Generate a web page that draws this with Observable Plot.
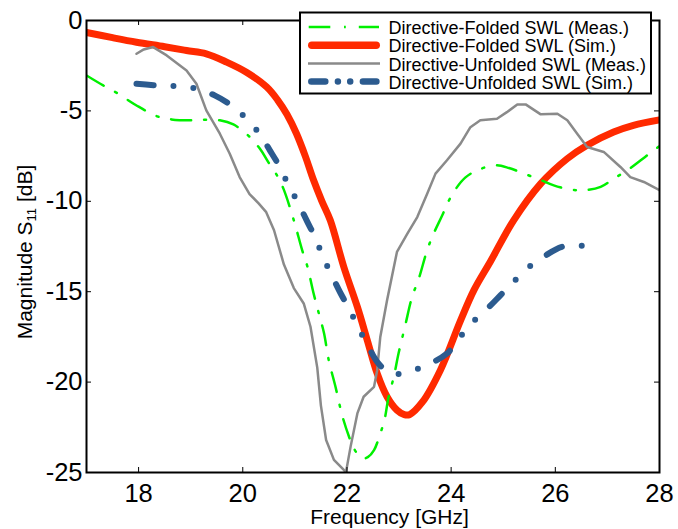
<!DOCTYPE html>
<html><head><meta charset="utf-8">
<script src="https://cdn.jsdelivr.net/npm/d3@7"></script>
<script src="https://cdn.jsdelivr.net/npm/@observablehq/plot@0.6"></script>
<style>body{margin:0;background:#fff} svg{display:block}</style>
</head><body><div id="chart"></div>
<script>
// Series names (legend order)
const seriesNames = [
  "Directive-Folded SWL (Meas.)",
  "Directive-Folded SWL (Sim.)",
  "Directive-Unfolded SWL (Meas.)",
  "Directive-Unfolded SWL (Sim.)"
];

// Directive-Folded SWL (Meas.)
const folMeasF = [17.0,17.32,17.58,17.96,18.36,18.63,19.02,19.27,19.56,19.82,20.1,20.33,20.49,20.65,20.78,20.98,21.14,21.24,21.36,21.46,21.56,21.65,21.78,21.91,22.04,22.13,22.29,22.4,22.52,22.64,22.72,22.8,22.9,22.99,23.12,23.25,23.38,23.54,23.67,23.83,23.96,24.08,24.27,24.5,24.84,25.11,25.4,25.7,25.97,26.29,26.55,26.87,27.12,27.38,27.64,27.89,28.0];
const folMeasS = [-3.04,-3.59,-4.0,-4.7,-5.3,-5.47,-5.52,-5.49,-5.52,-5.75,-6.35,-7.09,-7.83,-8.53,-9.3,-11.05,-12.7,-13.6,-15.1,-16.2,-17.3,-18.78,-20.26,-21.86,-23.02,-23.66,-24.22,-24.15,-23.76,-22.84,-22.1,-20.81,-19.7,-18.42,-16.85,-15.29,-14.27,-12.7,-11.75,-10.77,-9.94,-9.35,-8.69,-8.29,-8.01,-8.16,-8.47,-8.8,-9.12,-9.35,-9.39,-9.2,-8.75,-8.29,-7.73,-7.18,-6.95];

// Directive-Folded SWL (Sim.)
const folSimF = [17.0,17.5,17.96,18.5,18.92,19.3,19.69,20.07,20.46,20.67,20.85,21.03,21.2,21.36,21.52,21.68,21.94,22.2,22.39,22.58,22.77,22.96,23.1,23.2,23.45,23.8,24.18,24.44,24.76,25.2,25.72,26.23,26.61,27.12,27.5,28.0];
const folSimS = [-0.66,-0.95,-1.2,-1.45,-1.66,-1.84,-2.3,-2.86,-3.68,-4.4,-5.2,-6.25,-7.5,-8.84,-10.0,-11.05,-13.63,-15.84,-17.68,-19.52,-20.81,-21.55,-21.8,-21.8,-21.1,-19.3,-16.6,-14.9,-13.3,-11.05,-9.02,-7.64,-6.9,-6.17,-5.8,-5.5];

// Directive-Unfolded SWL (Meas.)
const unfMeasF = [17.96,18.1,18.28,18.54,18.92,19.11,19.3,19.56,19.75,19.94,20.13,20.3,20.45,20.6,20.79,20.98,21.17,21.3,21.43,21.5,21.6,21.75,21.94,21.98,22.07,22.2,22.32,22.52,22.58,22.64,22.77,22.96,23.16,23.35,23.54,23.7,23.92,24.18,24.37,24.56,24.88,25.07,25.27,25.43,25.72,26.04,26.23,26.42,26.61,26.93,27.25,27.44,27.7,28.0];
const unfMeasS = [-1.84,-1.6,-1.47,-1.93,-2.76,-3.5,-4.97,-6.26,-7.37,-8.66,-9.6,-10.1,-10.6,-11.6,-13.5,-14.8,-15.65,-16.94,-19.2,-21.3,-23.2,-24.3,-24.86,-25.0,-23.57,-21.73,-20.81,-20.26,-19.34,-17.5,-15.47,-12.8,-11.79,-10.87,-9.58,-8.47,-7.73,-6.81,-5.9,-5.52,-5.43,-5.07,-4.64,-4.64,-5.19,-5.16,-5.52,-6.26,-7.0,-7.27,-8.1,-8.66,-8.93,-9.39];

// Directive-Unfolded SWL (Sim.)
const unfSimF = [17.96,18.34,18.74,19.12,19.46,19.78,20.07,20.32,20.52,20.71,20.88,21.06,21.24,21.4,21.54,21.7,21.88,22.04,22.21,22.39,22.58,22.74,22.9,23.24,23.58,23.92,24.15,24.4,24.68,24.95,25.2,25.48,25.79,26.13,26.51,26.87];
const unfSimS = [-3.5,-3.59,-3.63,-3.78,-4.14,-4.7,-5.43,-6.26,-7.18,-8.1,-9.12,-10.08,-11.14,-12.06,-13.08,-14.05,-15.1,-15.93,-16.94,-17.92,-18.88,-19.34,-19.56,-19.38,-19.0,-18.42,-17.59,-16.72,-15.98,-15.19,-14.45,-13.66,-13.04,-12.52,-12.46,-12.67];

const xTicks = [18,20,22,24,26,28];
const yTicks = [0,-5,-10,-15,-20,-25];

const colors = {green:"#00f000", red:"#ff2a00", gray:"#8a8a8a", blue:"#2c5b8f"};
const FONT = "'Liberation Sans', Arial, Helvetica, sans-serif";

const W = 678, H = 529, mL = 86, mR = 19, mT = 20, mB = 57;
const fw = W - mL - mR, fh = H - mT - mB;

const rows = (f, s) => f.map((x, i) => ({f: x, s: s[i]}));

const plot = Plot.plot({
  width: W, height: H,
  marginLeft: mL, marginRight: mR, marginTop: mT, marginBottom: mB,
  style: {fontFamily: FONT, background: "white", overflow: "visible", color: "black"},
  x: {domain: [17, 28]},
  y: {domain: [-25, 0]},
  marks: [
    Plot.line(rows(folSimF, folSimS), {x: "f", y: "s", stroke: colors.red, strokeWidth: 7, curve: "catmull-rom", clip: true, strokeLinejoin: "round"}),
    Plot.line(rows(unfMeasF, unfMeasS), {x: "f", y: "s", stroke: colors.gray, strokeWidth: 2.5, clip: true}),
    Plot.line(rows(folMeasF, folMeasS), {x: "f", y: "s", stroke: colors.green, strokeWidth: 2.5, curve: "catmull-rom", strokeDasharray: "20,13,2,13", clip: true}),
    Plot.line(rows(unfSimF, unfSimS), {x: "f", y: "s", stroke: colors.blue, strokeWidth: 6, curve: "catmull-rom", strokeDasharray: "17,20,0,20,0,20", strokeLinecap: "round", clip: true}),
    Plot.tickX(xTicks, {x: d => d, insetTop: fh - 5, stroke: "black", strokeWidth: 1}),
    Plot.tickX(xTicks, {x: d => d, insetBottom: fh - 5, stroke: "black", strokeWidth: 1}),
    Plot.tickY(yTicks, {y: d => d, insetRight: fw - 5, stroke: "black", strokeWidth: 1}),
    Plot.tickY(yTicks, {y: d => d, insetLeft: fw - 5, stroke: "black", strokeWidth: 1}),
    Plot.frame({stroke: "black", strokeWidth: 2}),
    Plot.axisX(xTicks, {tickSize: 0, tickPadding: 11, fontSize: 25.5, tickFormat: d => String(d), label: null}),
    Plot.axisY(yTicks, {tickSize: 0, tickPadding: 4, fontSize: 25.5, tickFormat: d => String(d), label: null}),
    Plot.text(["Frequency [GHz]"], {frameAnchor: "bottom", dx: 16.5, dy: 51, lineAnchor: "bottom", fontSize: 21, fill: "black"})
  ]
});

const svg = d3.select(plot);

// Y axis label with subscript
const yl = svg.append("text")
  .attr("transform", "translate(31.5,252) rotate(-90)")
  .attr("text-anchor", "middle")
  .attr("font-family", FONT)
  .attr("font-size", 21)
  .attr("fill", "black");
yl.append("tspan").text("Magnitude S");
yl.append("tspan").attr("font-size", 13).attr("dy", 4).text("11");
yl.append("tspan").attr("dy", -4).text(" [dB]");

// Legend box
const lg = svg.append("g").attr("text-anchor", "start");
lg.append("rect").attr("x", 300).attr("y", 12.5).attr("width", 351).attr("height", 81)
  .attr("fill", "white").attr("stroke", "black").attr("stroke-width", 2);
const rowY = [27, 45.2, 63.5, 81.5];
const samples = [
  {x1: 308.7, x2: 379, stroke: colors.green, width: 2.5, dash: "21.6,13.7,1.8,13,22", cap: "butt"},
  {x1: 311.8, x2: 376.2, stroke: colors.red, width: 7.5, dash: null, cap: "round"},
  {x1: 308, x2: 380, stroke: colors.gray, width: 2.5, dash: null, cap: "butt"},
  {x1: 311.3, x2: 376.4, stroke: colors.blue, width: 6.5, dash: "14,12.6,0,12.3,0,12.7,20", cap: "round"}
];
samples.forEach((s, i) => {
  const ln = lg.append("line").attr("x1", s.x1).attr("x2", s.x2).attr("y1", rowY[i]).attr("y2", rowY[i])
    .attr("stroke", s.stroke).attr("stroke-width", s.width).attr("stroke-linecap", s.cap);
  if (s.dash) ln.attr("stroke-dasharray", s.dash);
  lg.append("text").attr("x", 388.5).attr("y", rowY[i] + 7)
    .attr("text-anchor", "start")
    .attr("font-family", FONT).attr("font-size", 18).attr("fill", "black")
    .text(seriesNames[i]);
});

document.getElementById("chart").appendChild(plot);
</script>
</body></html>
